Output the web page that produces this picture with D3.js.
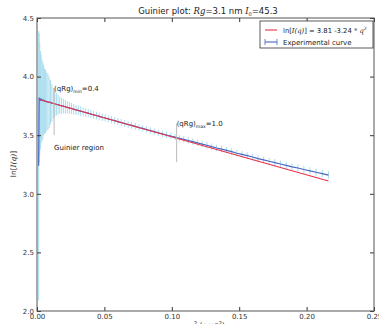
<!DOCTYPE html>
<html><head><meta charset="utf-8">
<script src="https://cdn.jsdelivr.net/npm/d3@7"></script>
<style>
html,body{margin:0;padding:0;background:#fff;overflow:hidden}
text{font-family:"DejaVu Sans",sans-serif;}
</style></head>
<body>
<svg id="c" width="379" height="324"></svg>
<script>
// ---- data ----
const q2 = [0.001225,0.0016,0.002025,0.0025,0.003025,0.0036,0.004225,0.0049,0.005625,0.0064,0.007225,0.0081,0.009025,0.01,0.011025,0.0121,0.013225,0.0144,0.015625,0.0169,0.018225,0.0196,0.021025,0.0225,0.024025,0.0256,0.027225,0.0289,0.030625,0.0324,0.034225,0.0361,0.038025,
0.04,0.042,0.0441,0.0462,0.0484,0.0506,0.0529,0.0552,0.0576,0.06,0.0625,0.065,0.0676,0.0702,0.0729,0.0756,0.0784,0.0812,0.0841,0.087,0.09,0.093,0.0961,0.0992,0.1024,0.1056,0.1089,0.1122,0.1156,0.119,0.1225,0.126,0.1296,0.1332,0.1369,0.1406,0.1444,0.1482,0.1521,0.156,0.16,0.164,0.1681,0.1722,0.1764,0.1806,0.1849,0.1892,0.1936,0.198,0.2025,0.207,0.2116,0.2162];
const lnI = [3.24,3.82,3.81,3.80,3.81,3.80,3.795,3.80,3.79,3.79,3.785,3.785,3.78,3.78,3.775,3.772,3.768,3.764,3.762,3.755,3.752,3.748,3.743,3.738,3.733,3.728,3.723,3.716,3.712,3.706,3.700,3.694,3.688,
3.681,3.674,3.668,3.661,3.653,3.647,3.639,3.632,3.624,3.616,3.608,3.600,3.591,3.584,3.575,3.566,3.558,3.549,3.540,3.530,3.521,3.512,3.502,3.493,3.483,3.474,3.464,3.455,3.445,3.434,3.424,3.414,3.402,3.391,3.381,3.371,3.360,3.346,3.337,3.326,3.314,3.300,3.289,3.278,3.266,3.254,3.242,3.230,3.220,3.207,3.196,3.184,3.172,3.160];
const errs = [1.15,0.55,0.48,0.42,0.38,0.35,0.33,0.30,0.28,0.27,0.25,0.24,0.22,0.19,0.16,0.13,0.11,0.095,0.085,0.075,0.068,0.062,0.057,0.053,0.05,0.047,0.045,0.043,0.041,0.04,0.038,0.037,0.036,
0.035,0.034,0.033,0.033,0.032,0.032,0.031,0.031,0.030,0.030,0.030,0.029,0.029,0.029,0.028,0.028,0.028,0.028,0.027,0.027,0.027,0.027,0.027,0.027,0.027,0.027,0.027,0.027,0.027,0.027,0.027,0.027,0.027,0.027,0.028,0.028,0.028,0.028,0.028,0.028,0.029,0.029,0.029,0.029,0.030,0.030,0.030,0.030,0.031,0.031,0.031,0.032,0.032,0.032];
const fitIntercept = 3.81, fitSlope = -3.24;
const fitRange = [0.0016, 0.2162];
const xTicks = [0, 0.05, 0.10, 0.15, 0.20, 0.25];
const yTicks = [2.0, 2.5, 3.0, 3.5, 4.0, 4.5];
const guides = [{q2:0.0127, top:3.9, bottom:3.5, label:"min", val:"0.4"},
                {q2:0.1036, top:3.6, bottom:3.27, label:"max", val:"1.0"}];

// ---- layout ----
const L=37,R=374,T=18,B=311;
const x = d3.scaleLinear().domain([0,0.25]).range([L,R]);
const y = d3.scaleLinear().domain([2,4.5]).range([B,T]);
const svg = d3.select("#c");
svg.append("defs").append("clipPath").attr("id","clip")
  .append("rect").attr("x",L).attr("y",T).attr("width",R-L).attr("height",B-T);

const pts = q2.map((d,i)=>({q:d,v:lnI[i],e:errs[i]}));
const g = svg.append("g").attr("clip-path","url(#clip)");
g.selectAll("line.err").data(pts).join("line").attr("class","err")
  .attr("x1",d=>x(d.q)).attr("x2",d=>x(d.q))
  .attr("y1",d=>y(d.v+d.e)).attr("y2",d=>y(d.v-d.e))
  .attr("stroke","#a9dcee").attr("stroke-width",1);
g.append("path").datum(pts)
  .attr("d",d3.line().x(d=>x(d.q)).y(d=>y(d.v)))
  .attr("fill","none").attr("stroke","#4a68c0").attr("stroke-width",1.2);
g.append("path").datum(fitRange)
  .attr("d",d3.line().x(d=>x(d)).y(d=>y(fitIntercept+fitSlope*d)))
  .attr("fill","none").attr("stroke","#e8334a").attr("stroke-width",1.1);

guides.forEach(gd=>{
  svg.append("line").attr("x1",x(gd.q2)).attr("x2",x(gd.q2))
    .attr("y1",y(gd.top)).attr("y2",y(gd.bottom))
    .attr("stroke","#bbbbbb").attr("stroke-width",1);
  const t = svg.append("text").attr("x",x(gd.q2)).attr("y",y(gd.top)+3)
    .attr("font-size","7px").attr("fill","#222");
  t.append("tspan").text("(qRg)");
  t.append("tspan").attr("font-size","4.5px").attr("dy",2).text(gd.label);
  t.append("tspan").attr("dy",-2).text("="+gd.val);
});
svg.append("text").attr("x",x(0.0127)).attr("y",150).attr("font-size","7px").attr("fill","#222").text("Guinier region");

function style(sel){
  sel.select(".domain").remove();
  sel.selectAll(".tick line").attr("stroke","#333");
  sel.selectAll(".tick text").attr("fill","#333").attr("font-size","7px").attr("font-family","DejaVu Sans");
}
svg.append("g").attr("transform",`translate(0,${B})`)
  .call(d3.axisBottom(x).tickValues(xTicks).tickFormat(d3.format(".2f")).tickSize(-4).tickPadding(3)).call(style);
svg.append("g").attr("transform",`translate(0,${T})`)
  .call(d3.axisTop(x).tickValues(xTicks).tickFormat("").tickSize(-4)).call(style);
svg.append("g").attr("transform",`translate(${L},0)`)
  .call(d3.axisLeft(y).tickValues(yTicks).tickFormat(d3.format(".1f")).tickSize(-4).tickPadding(3)).call(style);
svg.append("g").attr("transform",`translate(${R},0)`)
  .call(d3.axisRight(y).tickValues(yTicks).tickFormat("").tickSize(-4)).call(style);
svg.append("rect").attr("x",L).attr("y",T).attr("width",R-L).attr("height",B-T)
  .attr("fill","none").attr("stroke","#555").attr("stroke-width",1);

const title = svg.append("text").attr("x",208).attr("y",14).attr("text-anchor","middle")
  .attr("font-size","8.5px").attr("fill","#222");
title.append("tspan").text("Guinier plot: ");
title.append("tspan").attr("font-style","italic").attr("font-family","DejaVu Serif").text("Rg");
title.append("tspan").text("=3.1 nm ");
title.append("tspan").attr("font-style","italic").attr("font-family","DejaVu Serif").text("I");
title.append("tspan").attr("font-size","5px").attr("dy",2).text("0");
title.append("tspan").attr("dy",-2).text("=45.3");

const yl = svg.append("text").attr("transform","translate(16,164) rotate(-90)")
  .attr("text-anchor","middle").attr("font-size","7.5px").attr("fill","#222");
yl.append("tspan").text("ln[");
yl.append("tspan").attr("font-style","italic").attr("font-family","DejaVu Serif").text("I(q)");
yl.append("tspan").text("]");
const xl = svg.append("text").attr("x",207).attr("y",328).attr("text-anchor","middle")
  .attr("font-size","7.5px").attr("fill","#222");
xl.append("tspan").attr("font-style","italic").attr("font-family","DejaVu Serif").text("q");
xl.append("tspan").attr("font-size","5px").attr("dy",-3).text("2");
xl.append("tspan").attr("dy",3).text(" (nm");
xl.append("tspan").attr("font-size","5px").attr("dy",-3).text("−2");
xl.append("tspan").attr("dy",3).text(")");

const lg = svg.append("g");
lg.append("rect").attr("x",260).attr("y",21).attr("width",113).attr("height",27)
  .attr("fill","#fff").attr("stroke","#333").attr("stroke-width",0.8);
lg.append("line").attr("x1",265).attr("x2",277).attr("y1",30).attr("y2",30).attr("stroke","#e8334a").attr("stroke-width",1.1);
lg.append("line").attr("x1",265).attr("x2",277).attr("y1",42).attr("y2",42).attr("stroke","#4a68c0").attr("stroke-width",1.1);
lg.append("line").attr("x1",265).attr("x2",265).attr("y1",39).attr("y2",45).attr("stroke","#4a68c0").attr("stroke-width",0.8);
lg.append("line").attr("x1",277).attr("x2",277).attr("y1",39).attr("y2",45).attr("stroke","#4a68c0").attr("stroke-width",0.8);
const l1 = lg.append("text").attr("x",283).attr("y",33).attr("font-size","6.8px").attr("fill","#222");
l1.append("tspan").text("ln[");
l1.append("tspan").attr("font-style","italic").attr("font-family","DejaVu Serif").text("I(q)");
l1.append("tspan").text("] = 3.81 -3.24 * ");
l1.append("tspan").attr("font-style","italic").attr("font-family","DejaVu Serif").text("q");
l1.append("tspan").attr("font-size","4.5px").attr("dy",-3).text("2");
lg.append("text").attr("x",283).attr("y",45).attr("font-size","7px").attr("fill","#222").text("Experimental curve");
</script>
</body></html>
